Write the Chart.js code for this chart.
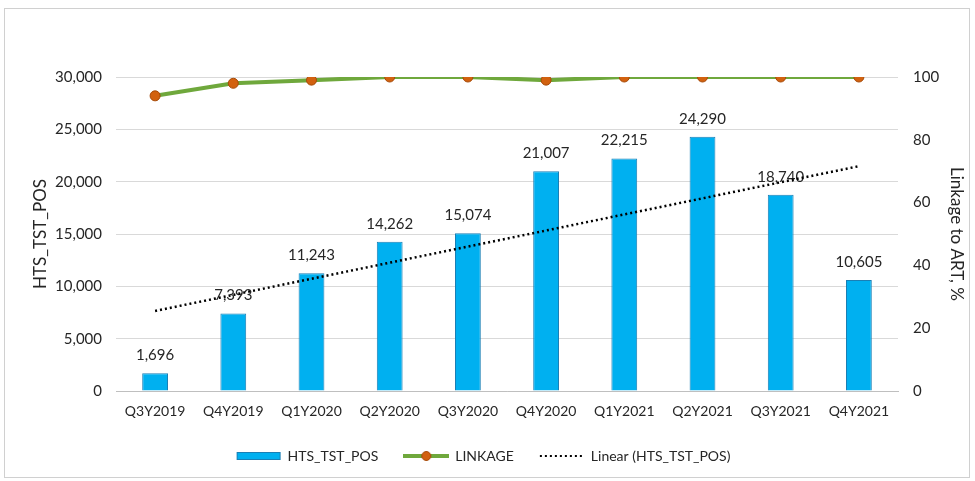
<!DOCTYPE html>
<html>
<head>
<meta charset="utf-8">
<script src="https://cdn.jsdelivr.net/npm/chart.js@4.4.1/dist/chart.umd.min.js"></script>
<style>
  html, body { margin: 0; padding: 0; background: #fff; }
  #wrap { width: 975px; height: 481px; position: relative; }
</style>
</head>
<body>
<div id="wrap"><canvas id="chart" width="975" height="481"></canvas></div>
<script>
// chart data
const quarters = ['Q3Y2019', 'Q4Y2019', 'Q1Y2020', 'Q2Y2020', 'Q3Y2020',
                  'Q4Y2020', 'Q1Y2021', 'Q2Y2021', 'Q3Y2021', 'Q4Y2021'];
const htsTstPos = [1696, 7393, 11243, 14262, 15074, 21007, 22215, 24290, 18740, 10605];
const linkage = [94, 98, 99, 100, 100, 99, 100, 100, 100, 100];
// trendline ends (straight line between them)
const trendLine = [7650, null, null, null, null, null, null, null, null, 21480];
const leftTicks = [0, 5000, 10000, 15000, 20000, 25000, 30000];
const rightTicks = [0, 20, 40, 60, 80, 100];

const FONT = 'Lato';
const TEXT = '#262626';

function fmt(v) {
    return Number(v).toLocaleString('en-US');
}

// small canvases used as legend symbols
function legendSymbol(kind) {
    const c = document.createElement('canvas');
    c.width = 46;
    c.height = 12;
    const g = c.getContext('2d');
    if (kind === 'bar') {
        g.fillStyle = '#00B0F0';
        g.fillRect(1, 2, 44, 8);
        g.strokeStyle = '#1a7fb5';
        g.lineWidth = 1;
        g.strokeRect(1.5, 2.5, 43, 7);
    } else if (kind === 'line') {
        g.strokeStyle = '#6FA83C';
        g.lineWidth = 4;
        g.beginPath();
        g.moveTo(0, 6);
        g.lineTo(46, 6);
        g.stroke();
        g.fillStyle = '#D2610F';
        g.strokeStyle = '#A64A08';
        g.lineWidth = 1;
        g.beginPath();
        g.arc(23, 6, 4.5, 0, Math.PI * 2);
        g.fill();
        g.stroke();
    } else {
        g.strokeStyle = '#000';
        g.lineWidth = 2;
        g.setLineDash([2, 3]);
        g.beginPath();
        g.moveTo(1, 6);
        g.lineTo(46, 6);
        g.stroke();
    }
    return c;
}

const symbols = [legendSymbol('bar'), legendSymbol('line'), legendSymbol('trend')];

// outer frame
const framePlugin = {
    id: 'frame',
    beforeDraw(chart) {
        const ctx = chart.ctx;
        ctx.save();
        ctx.fillStyle = '#fff';
        ctx.fillRect(0, 0, chart.width, chart.height);
        ctx.strokeStyle = '#d0d0d0';
        ctx.lineWidth = 1;
        ctx.strokeRect(4.5, 8.5, 965, 469);
        ctx.restore();
    }
};

// value labels above the bars
const barLabels = {
    id: 'barLabels',
    afterDatasetDraw(chart, args) {
        if (args.index !== 0) return;
        const ctx = chart.ctx;
        ctx.save();
        ctx.font = '15px ' + FONT;
        ctx.fillStyle = TEXT;
        ctx.textAlign = 'center';
        ctx.textBaseline = 'middle';
        args.meta.data.forEach((bar, i) => {
            ctx.fillText(fmt(htsTstPos[i]), bar.x, bar.y - 18);
        });
        ctx.restore();
    }
};

new Chart(document.getElementById('chart'), {
    data: {
        labels: quarters,
        datasets: [{
            type: 'bar',
            label: 'HTS_TST_POS',
            data: htsTstPos,
            yAxisID: 'y',
            backgroundColor: '#00B0F0',
            borderColor: '#1a7fb5',
            borderWidth: 1,
            barPercentage: 0.66,
            categoryPercentage: 0.5,
            order: 3
        }, {
            type: 'line',
            label: 'LINKAGE',
            data: linkage,
            yAxisID: 'y1',
            borderColor: '#6FA83C',
            borderWidth: 4,
            pointRadius: 5,
            pointBackgroundColor: '#D2610F',
            pointBorderColor: '#A64A08',
            pointBorderWidth: 1,
            tension: 0,
            order: 1
        }, {
            type: 'line',
            label: 'Linear (HTS_TST_POS)',
            data: trendLine,
            yAxisID: 'y',
            spanGaps: true,
            borderColor: '#000',
            borderWidth: 2.5,
            borderDash: [2, 3],
            pointRadius: 0,
            order: 2
        }]
    },
    options: {
        responsive: false,
        animation: false,
        layout: {
            padding: { top: 77, left: 0, right: 8, bottom: 18 }
        },
        plugins: {
            tooltip: { enabled: false },
            legend: {
                position: 'bottom',
                maxHeight: 40,
                labels: {
                    usePointStyle: true,
                    pointStyleWidth: 44,
                    padding: 26,
                    color: TEXT,
                    font: { family: FONT, size: 14 },
                    generateLabels(chart) {
                        return chart.data.datasets.map((ds, i) => ({
                            text: ds.label,
                            pointStyle: symbols[i],
                            fillStyle: 'transparent',
                            strokeStyle: 'transparent',
                            lineWidth: 0,
                            fontColor: TEXT,
                            datasetIndex: i
                        }));
                    }
                }
            }
        },
        scales: {
            x: {
                grid: { display: false },
                border: { display: true, color: '#bfbfbf' },
                ticks: {
                    color: TEXT,
                    font: { family: FONT, size: 14 },
                    padding: 4,
                    maxRotation: 0
                },
                afterFit(scale) { scale.height = 32; }
            },
            y: {
                position: 'left',
                min: 0,
                max: 30000,
                afterBuildTicks(scale) {
                    scale.ticks = leftTicks.map(v => ({ value: v }));
                },
                grid: { color: '#d9d9d9', drawTicks: false },
                border: { display: false },
                ticks: {
                    color: TEXT,
                    font: { family: FONT, size: 15 },
                    padding: 14,
                    callback: v => fmt(v)
                },
                title: {
                    display: true,
                    text: 'HTS_TST_POS',
                    color: TEXT,
                    font: { family: FONT, size: 17 },
                    padding: { top: 30, bottom: 0 }
                },
                afterFit(scale) { scale.width = 116; }
            },
            y1: {
                position: 'right',
                min: 0,
                max: 100,
                afterBuildTicks(scale) {
                    scale.ticks = rightTicks.map(v => ({ value: v }));
                },
                grid: { display: false, drawTicks: false },
                border: { display: false },
                ticks: {
                    color: TEXT,
                    font: { family: FONT, size: 15 },
                    padding: 15
                },
                title: {
                    display: true,
                    text: 'Linkage to ART, %',
                    color: TEXT,
                    font: { family: FONT, size: 17 },
                    padding: { top: 0, bottom: 0 }
                },
                afterFit(scale) { scale.width = 69; }
            }
        }
    },
    plugins: [framePlugin, barLabels]
});
</script>
</body>
</html>
